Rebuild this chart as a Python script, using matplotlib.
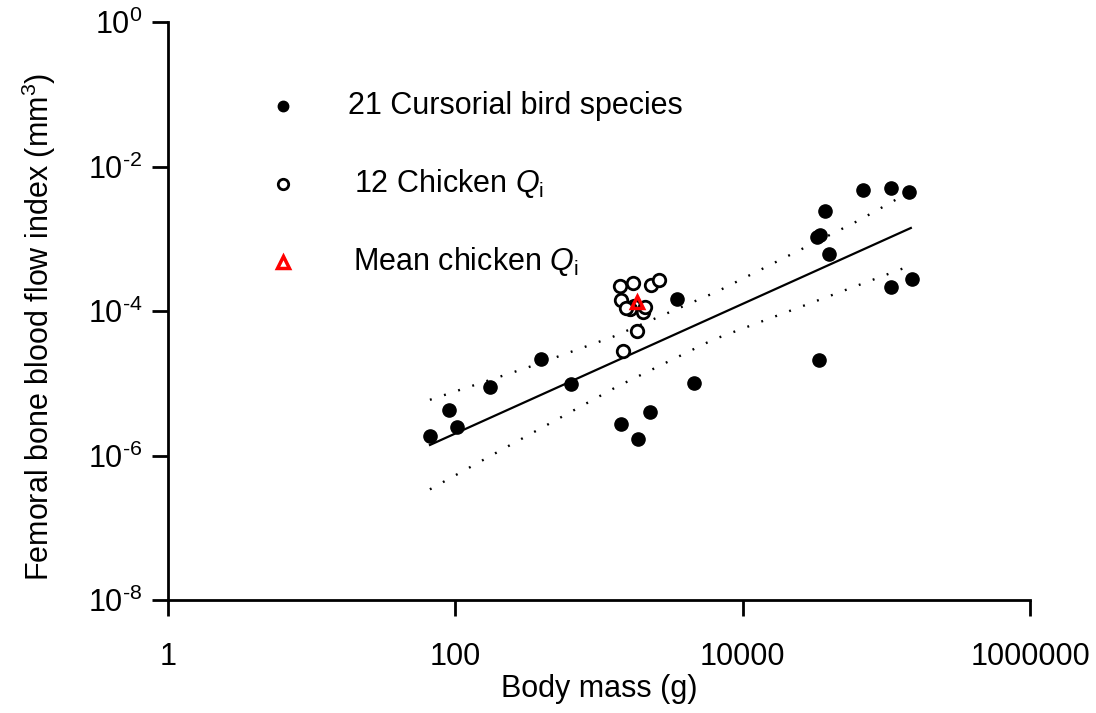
"""Femoral bone blood flow index vs body mass (log-log), cursorial birds + chicken."""
import numpy as np
import matplotlib

matplotlib.use("Agg")
import matplotlib.pyplot as plt

plt.rcParams["font.family"] = ["Liberation Sans", "DejaVu Sans"]
plt.rcParams["mathtext.fontset"] = "custom"
plt.rcParams["mathtext.rm"] = "Liberation Sans"
plt.rcParams["mathtext.it"] = "Liberation Sans:italic"

# 21 cursorial bird species (body mass g, Qi mm^3)
bird_mass = [66.6, 90.2, 102.6, 174, 394, 637, 1420, 1866, 2261, 1641, 3485,
             4575, 33900, 32800, 34450, 37350, 39800, 68700, 107400, 143500,
             107400, 150400]
bird_qi = [1.86e-6, 4.27e-6, 2.48e-6, 8.87e-6, 2.17e-5, 9.77e-6, 2.73e-6,
           1.69e-6, 4.0e-6, 1.07e-4, 1.47e-4, 1.01e-5, 2.1e-5, 1.06e-3,
           1.13e-3, 2.42e-3, 6.15e-4, 4.73e-3, 5.04e-3, 4.44e-3, 2.15e-4,
           2.77e-4]

# 12 individual chickens
chick_mass = [1397, 1722, 2297, 2611, 1420, 1750, 1641, 2021, 2085, 1836,
              1466, 1550]
chick_qi = [2.22e-4, 2.44e-4, 2.29e-4, 2.69e-4, 1.42e-4, 1.17e-4, 1.07e-4,
            9.7e-5, 1.14e-4, 5.3e-5, 2.8e-5, 1.1e-4]

# mean chicken
mean_mass = [1836]
mean_qi = [1.33e-4]

# regression line and 95% bands
fit_mass = [66.6, 148000]
fit_qi = [1.40e-6, 1.41e-3]
upper_mass = [66.5, 315, 1250, 6600, 63400, 146000]
upper_qi = [5.9e-6, 1.64e-5, 4.4e-5, 1.85e-4, 1.77e-3, 4.46e-3]
lower_mass = [66.5, 229, 1330, 6200, 146000]
lower_qi = [3.4e-7, 1.32e-6, 8.95e-6, 4.0e-5, 4.22e-4]

x_ticks = [1, 100, 10000, 1000000]
x_ticklabels = ["1", "100", "10000", "1000000"]
y_ticks = [1e-8, 1e-6, 1e-4, 1e-2, 1]
y_ticklabels = [r"$10^{\text{-}8}$", r"$10^{\text{-}6}$", r"$10^{\text{-}4}$",
                r"$10^{\text{-}2}$", r"$10^{0}$"]

fig = plt.figure(figsize=(10.96, 7.13), dpi=100)
ax = fig.add_axes([0.1533, 0.1585, 0.7865, 0.8106])

ax.plot(fit_mass, fit_qi, color="black", lw=1.6)
ax.plot(upper_mass, upper_qi, color="black", lw=1.7, ls=(0, (0.8, 5.5)))
ax.plot(lower_mass, lower_qi, color="black", lw=1.7, ls=(0, (0.8, 5.5)))

ax.plot(bird_mass, bird_qi, "o", color="black", ms=9.5, zorder=3)
ax.plot(chick_mass, chick_qi, "o", mfc="white", mec="black", mew=2.0,
        ms=9, zorder=4)
ax.plot(mean_mass, mean_qi, "^", mfc="none", mec="red", mew=2.5, ms=9,
        zorder=5)

ax.set_xscale("log")
ax.set_yscale("log")
ax.set_xlim(1, 1e6)
ax.set_ylim(1e-8, 1)
ax.set_xticks(x_ticks)
ax.set_xticklabels(x_ticklabels)
ax.set_yticks(y_ticks)
ax.set_yticklabels(y_ticklabels)
ax.minorticks_off()
ax.tick_params(axis="both", which="major", direction="out", length=11.5,
               width=2, labelsize=22)
ax.tick_params(axis="x", pad=19)
ax.tick_params(axis="y", pad=7)
for side in ("top", "right"):
    ax.spines[side].set_visible(False)
for side in ("left", "bottom"):
    ax.spines[side].set_linewidth(2)

ax.set_xlabel("Body mass (g)", fontsize=22, labelpad=1)
ax.set_ylabel(r"Femoral bone blood flow index (mm$^{3}$)", fontsize=22)
ax.yaxis.set_label_coords(-0.128, 0.472)

# hand-placed legend
leg_x = 0.1334
leg_tx = 0.216
ax.plot([leg_x], [0.855], "o", color="black", ms=7.5, transform=ax.transAxes,
        clip_on=False)
ax.text(leg_tx - 0.007, 0.855, "21 Cursorial bird species", fontsize=22,
        va="center", transform=ax.transAxes)
ax.plot([leg_x], [0.72], "o", mfc="white", mec="black", mew=2.0, ms=7.5,
        transform=ax.transAxes, clip_on=False)
ax.text(leg_tx, 0.72, r"12 Chicken $\mathit{Q}_{\mathrm{i}}$", fontsize=22,
        va="center", transform=ax.transAxes)
ax.plot([leg_x], [0.585], "^", mfc="none", mec="red", mew=2.5, ms=8,
        transform=ax.transAxes, clip_on=False)
ax.text(leg_tx - 0.001, 0.585, r"Mean chicken $\mathit{Q}_{\mathrm{i}}$",
        fontsize=22, va="center", transform=ax.transAxes)

fig.savefig("out.png", dpi=100)
plt.close(fig)
